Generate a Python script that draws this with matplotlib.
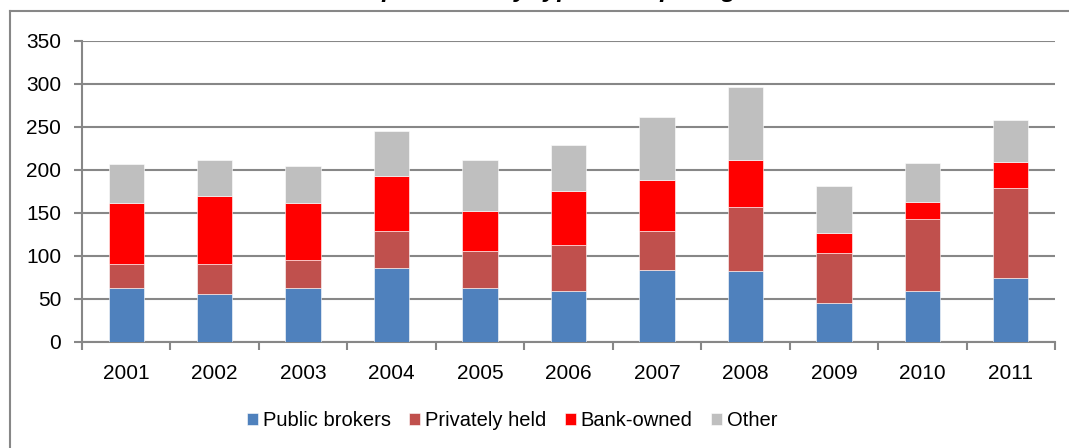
import numpy as np
import matplotlib.pyplot as plt
from matplotlib.lines import Line2D

plt.rcParams['font.family'] = ['Liberation Sans', 'DejaVu Sans']

years = ['2001', '2002', '2003', '2004', '2005', '2006', '2007', '2008', '2009', '2010', '2011']
public_brokers = [62, 56, 62, 86, 62, 59, 83, 82, 45, 59, 74]
privately_held = [29, 35, 33, 43, 44, 53, 46, 75, 58, 84, 105]
bank_owned = [70, 79, 66, 64, 46, 63, 59, 54, 23, 20, 30]
other = [46, 41, 43, 52, 59, 54, 74, 86, 55, 45, 49]

series = [public_brokers, privately_held, bank_owned, other]
labels = ['Public brokers', 'Privately held', 'Bank-owned', 'Other']
colors = ['#4F81BD', '#C0504D', '#FF0000', '#BFBFBF']
grid_col = '#878787'

fig = plt.figure(figsize=(10.69, 4.48), dpi=100)
ax = fig.add_axes([0.0767, 0.2373, 0.9102, 0.6712])

x = np.arange(len(years))
bottom = np.zeros(len(years))
for vals, lab, col in zip(series, labels, colors):
    ax.bar(x, vals, 0.4, bottom=bottom, color=col, label=lab,
           edgecolor='white', linewidth=0.4, zorder=3)
    bottom += np.array(vals)

ax.set_xlim(-0.5, len(years) - 0.5)
ax.set_ylim(0, 350)
ax.set_yticks(np.arange(0, 351, 50))
ax.yaxis.grid(True, color=grid_col, linewidth=1.5, zorder=0)

# category labels centred, tick marks at boundaries
ax.set_xticks(x)
ax.set_xticklabels(years)
ax.set_xticks(np.arange(-0.5, len(years), 1.0), minor=True)
ax.tick_params(axis='x', which='major', length=0, pad=16, labelsize=15)
ax.tick_params(axis='x', which='minor', length=6, width=1.5, color=grid_col)
ax.tick_params(axis='y', length=6, width=1.5, color=grid_col, pad=9, labelsize=15)

for s in ['top', 'right']:
    ax.spines[s].set_visible(False)
for s in ['left', 'bottom']:
    ax.spines[s].set_color(grid_col)
    ax.spines[s].set_linewidth(1.5)

fig.legend(loc='center', bbox_to_anchor=(0.479, 0.062), ncol=4, frameon=False,
           fontsize=14.5, handlelength=0.55, handleheight=0.55, handletextpad=0.25,
           columnspacing=0.9)

# chart border (only left and top edges visible in the crop)
fig.add_artist(Line2D([0.0094, 0.0094], [0, 0.9754], color=grid_col, lw=1.5))
fig.add_artist(Line2D([0.0094, 1], [0.9754, 0.9754], color=grid_col, lw=1.5))

# title, cut off at the top edge as in the source
fig.text(0.53, 1.007, 'Acquisitions by type of acquiring firm', ha='center',
         va='baseline', fontsize=18, fontweight='bold', fontstyle='italic')

fig.savefig('out.png', dpi=100)
